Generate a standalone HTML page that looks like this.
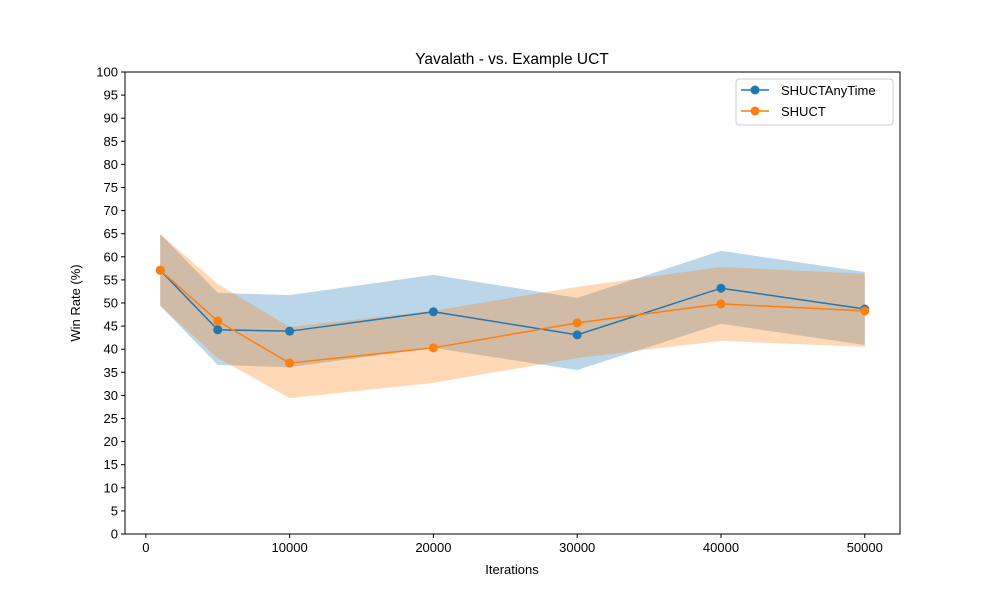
<!DOCTYPE html>
<html><head><meta charset="utf-8"><style>body{margin:0;background:#fff}svg{display:block;font-family:"Liberation Sans",sans-serif}</style></head>
<body>
<svg id="chart" width="1000" height="600" viewBox="0 0 1000 600">
<rect width="1000" height="600" fill="#fff"/>
<g id="plot"></g>
</svg>
<script>
const iterations=[1000,5000,10000,20000,30000,40000,50000];
const anyMean=[57.1,44.2,43.9,48.1,43.1,53.2,48.7];
const anyUpper=[64.9,52.2,51.7,56.1,51.1,61.3,56.7];
const anyLower=[49.4,36.6,36.1,40.3,35.5,45.5,40.9];
const shMean=[57.1,46.1,37.0,40.3,45.7,49.8,48.3];
const shUpper=[64.9,54.1,44.8,48.3,53.5,57.8,56.3];
const shLower=[49.4,38.1,29.4,32.7,38.1,41.8,40.5];
const xTicks=[0,10000,20000,30000,40000,50000];
const yTicks=[0,5,10,15,20,25,30,35,40,45,50,55,60,65,70,75,80,85,90,95,100];
const L=125,R=900,T=72,B=534;
const xmin=-1450,xmax=52450;
const X=v=>L+(v-xmin)/(xmax-xmin)*(R-L);
const Y=v=>B-(v)/100*(B-T);
const NS="http://www.w3.org/2000/svg";
const g=document.getElementById('plot');
function mk(t,a,p){const e=document.createElementNS(NS,t);for(const k in a)e.setAttribute(k,a[k]);(p||g).appendChild(e);return e;}
function band(up,lo,col,name){
 let d=iterations.map((v,i)=>(i?'L':'M')+X(v)+','+Y(up[i])).join('');
 for(let i=iterations.length-1;i>=0;i--)d+='L'+X(iterations[i])+','+Y(lo[i]);
 const p=mk('path',{d:d+'Z',fill:col,'fill-opacity':0.3});
 
 
}
function series(m,col,name){
 const p=mk('polyline',{points:iterations.map((v,i)=>X(v)+','+Y(m[i])).join(' '),fill:'none',stroke:col,'stroke-width':1.5});
 
 
 iterations.forEach((v,i)=>{const c=mk('circle',{cx:X(v),cy:Y(m[i]),r:4.5,fill:col});
 
 });
}
band(anyUpper,anyLower,'#1f77b4','shuctanytime-band');
band(shUpper,shLower,'#ff7f0e','shuct-band');
series(anyMean,'#1f77b4','shuctanytime');
series(shMean,'#ff7f0e','shuct');
const fr=mk('rect',{x:L,y:T,width:R-L,height:B-T,fill:'none',stroke:'#000','stroke-width':1});


xTicks.forEach(v=>{mk('line',{x1:X(v),x2:X(v),y1:B,y2:B+4,stroke:'#000'});
 const t=mk('text',{x:X(v),y:B+18,'text-anchor':'middle','font-size':13});t.textContent=v;
 
 });
yTicks.forEach(v=>{mk('line',{x1:L-4,x2:L,y1:Y(v),y2:Y(v),stroke:'#000'});
 const t=mk('text',{x:L-7,y:Y(v)+4.5,'text-anchor':'end','font-size':13});t.textContent=v;
 
 });
let t=mk('text',{x:512,y:64,'text-anchor':'middle','font-size':15.5});t.textContent='Yavalath - vs. Example UCT';


t=mk('text',{x:512,y:574,'text-anchor':'middle','font-size':13});t.textContent='Iterations';


t=mk('text',{x:80,y:303,'text-anchor':'middle','font-size':13,transform:'rotate(-90 80 303)'});t.textContent='Win Rate (%)';


const lg=mk('g',{});


mk('rect',{x:736,y:79,width:157,height:46,rx:3,fill:'#fff',stroke:'#ccc'},lg);
[['SHUCTAnyTime','#1f77b4'],['SHUCT','#ff7f0e']].forEach((s,i)=>{const y=90+i*21;
 mk('line',{x1:741,x2:769,y1:y,y2:y,stroke:s[1],'stroke-width':1.5},lg);
 mk('circle',{cx:755,cy:y,r:4.5,fill:s[1]},lg);
 const e=mk('text',{x:781,y:y+5,'font-size':13},lg);e.textContent=s[0];
 
 });
</script>
</body></html>
